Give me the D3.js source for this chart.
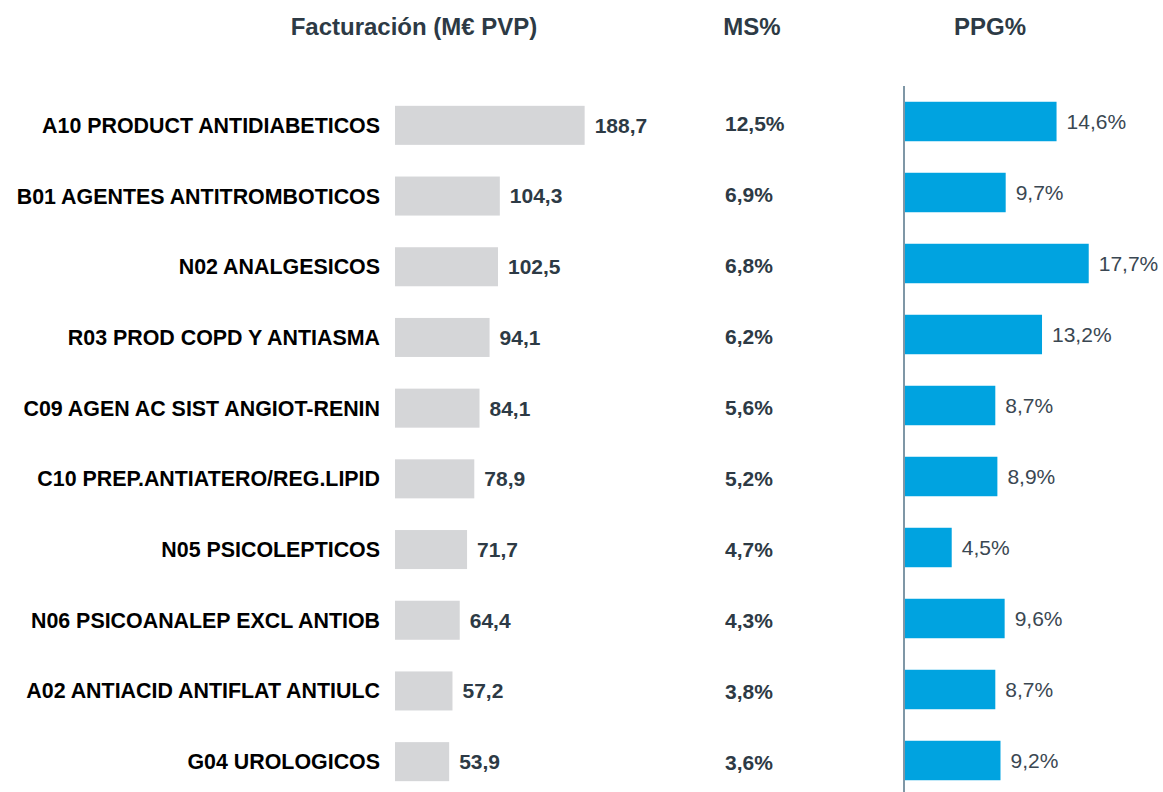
<!DOCTYPE html>
<html>
<head>
<meta charset="utf-8">
<script src="https://cdn.jsdelivr.net/npm/d3@7"></script>
<style>
    body { margin: 0; background: #fff; }
    svg { display: block; font-family: "Liberation Sans", Arial, sans-serif; }
</style>
</head>
<body>
<svg id="chart" width="1163" height="792"></svg>
<script>
// ----------------------------------------------------------------------------
// Data
// ----------------------------------------------------------------------------

var categories = [
    "A10 PRODUCT ANTIDIABETICOS",
    "B01 AGENTES ANTITROMBOTICOS",
    "N02 ANALGESICOS",
    "R03 PROD COPD Y ANTIASMA",
    "C09 AGEN AC SIST ANGIOT-RENIN",
    "C10 PREP.ANTIATERO/REG.LIPID",
    "N05 PSICOLEPTICOS",
    "N06 PSICOANALEP EXCL ANTIOB",
    "A02 ANTIACID ANTIFLAT ANTIULC",
    "G04 UROLOGICOS"
];
var facturacion = [188.7, 104.3, 102.5, 94.1, 84.1, 78.9, 71.7, 64.4, 57.2, 53.9];
var ms = [12.5, 6.9, 6.8, 6.2, 5.6, 5.2, 4.7, 4.3, 3.8, 3.6];
var ppg = [14.6, 9.7, 17.7, 13.2, 8.7, 8.9, 4.5, 9.6, 8.7, 9.2];
var headers = ["Facturación (M€ PVP)", "MS%", "PPG%"];

// ----------------------------------------------------------------------------
// Chart
// ----------------------------------------------------------------------------

var svg = d3.select("#chart");
var dark = "#2d3a45";

// Spanish number format: comma as decimal separator
var fmt = d3.formatLocale({decimal: ",", thousands: ".", grouping: [3], currency: ["", "€"]});
var f1 = fmt.format(".1f");

var idx = d3.range(categories.length);

// two row scales, the grey column sits a few px lower than the blue one
var yGrey = d3.scaleBand().domain(idx).range([90, 797]).paddingInner(0.448).paddingOuter(0.224);
var yBlue = d3.scaleBand().domain(idx).range([86, 796]).paddingInner(0.444).paddingOuter(0.222);

var xGrey = d3.scaleLinear().domain([0, 200]).range([395, 596]);
var xBlue = d3.scaleLinear().domain([0, 20]).range([905, 1112.6]);

// headers
var headerX = [414, 752, 990];
svg.selectAll("text.header")
    .data(headers)
    .enter().append("text")
    .attr("class", "header")
    .attr("x", function(d, i) { return headerX[i]; })
    .attr("y", 35)
    .attr("text-anchor", "middle")
    .attr("font-size", 24)
    .attr("font-weight", "bold")
    .attr("fill", dark)
    .text(function(d) { return d; });

// category labels
svg.selectAll("text.cat")
    .data(categories)
    .enter().append("text")
    .attr("class", "cat")
    .attr("x", 380)
    .attr("y", function(d, i) { return yGrey(i) + yGrey.bandwidth() / 2; })
    .attr("dy", "0.35em")
    .attr("text-anchor", "end")
    .attr("font-size", 21.4)
    .attr("font-weight", "bold")
    .attr("fill", "#000")
    .text(function(d) { return d; });

// grey bars
svg.selectAll("rect.grey")
    .data(facturacion)
    .enter().append("rect")
    .attr("class", "grey")
    .attr("x", xGrey(0))
    .attr("y", function(d, i) { return yGrey(i); })
    .attr("width", function(d) { return xGrey(d) - xGrey(0); })
    .attr("height", yGrey.bandwidth())
    .attr("fill", "#d5d6d8");

svg.selectAll("text.greyval")
    .data(facturacion)
    .enter().append("text")
    .attr("class", "greyval")
    .attr("x", function(d) { return xGrey(d) + 10; })
    .attr("y", function(d, i) { return yGrey(i) + yGrey.bandwidth() / 2; })
    .attr("dy", "0.35em")
    .attr("font-size", 21)
    .attr("font-weight", "bold")
    .attr("fill", dark)
    .text(function(d) { return f1(d); });

// MS% column
svg.selectAll("text.ms")
    .data(ms)
    .enter().append("text")
    .attr("class", "ms")
    .attr("x", 725)
    .attr("y", function(d, i) { return yBlue(i) + yBlue.bandwidth() / 2 + 2; })
    .attr("dy", "0.35em")
    .attr("font-size", 21)
    .attr("font-weight", "bold")
    .attr("fill", dark)
    .text(function(d) { return f1(d) + "%"; });

// PPG% bars
svg.selectAll("rect.blue")
    .data(ppg)
    .enter().append("rect")
    .attr("class", "blue")
    .attr("x", xBlue(0))
    .attr("y", function(d, i) { return yBlue(i); })
    .attr("width", function(d) { return xBlue(d) - xBlue(0); })
    .attr("height", yBlue.bandwidth())
    .attr("fill", "#00a3e0");

svg.selectAll("text.blueval")
    .data(ppg)
    .enter().append("text")
    .attr("class", "blueval")
    .attr("x", function(d) { return xBlue(d) + 10; })
    .attr("y", function(d, i) { return yBlue(i) + yBlue.bandwidth() / 2; })
    .attr("dy", "0.35em")
    .attr("font-size", 21)
    .attr("fill", "#3a4752")
    .text(function(d) { return f1(d) + "%"; });

// baseline of the PPG bars
svg.append("line")
    .attr("x1", xBlue(0) - 1).attr("x2", xBlue(0) - 1)
    .attr("y1", yBlue.range()[0]).attr("y2", 792)
    .attr("stroke", "#7f97a6")
    .attr("stroke-width", 2);
</script>
</body>
</html>
